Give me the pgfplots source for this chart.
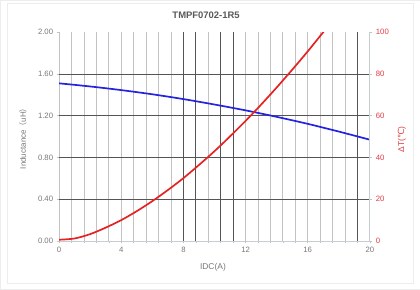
\documentclass[border=0pt]{standalone}
\usepackage{fontspec}
\setmainfont{Liberation Sans}
\newfontfamily\dejavu{DejaVu Sans}
\newfontfamily\cjk{Noto Sans CJK SC}
\usepackage{pgfplots}
\pgfplotsset{compat=1.18}
\definecolor{txtgray}{RGB}{120,120,120}
\definecolor{titlegray}{RGB}{90,90,90}
\definecolor{gridlight}{RGB}{195,195,195}
\definecolor{griddark}{RGB}{85,85,85}
\definecolor{framegray}{RGB}{200,205,210}
\definecolor{myblue}{RGB}{35,35,225}
\definecolor{myred}{RGB}{230,35,35}
\definecolor{rlab}{RGB}{225,60,70}
\begin{document}
\begin{tikzpicture}[x=1bp,y=1bp]
\path[draw=white!93!black,fill=white] (0,0) rectangle (420,289);
\path[draw=white!93!black] (7,6) rectangle (413,286);
\begin{axis}[
  at={(59bp,48bp)}, anchor=south west,
  width=311bp, height=209bp, scale only axis,
  xmin=0, xmax=20, ymin=0, ymax=2,
  axis y line*=left, axis x line*=bottom,
  xtick={0,4,...,20},
  minor xtick={0.8,1.6,2.4,3.2,4.8,5.6,6.4,7.2,8.8,9.6,10.4,11.2,12.8,13.6,14.4,15.2,16.8,17.6,18.4,19.2},
  ytick={0,0.4,0.8,1.2,1.6,2.0},
  xmajorgrids=true, xminorgrids=true, ymajorgrids=false,
  major grid style={draw=griddark, line width=0.8pt},
  minor grid style={draw=gridlight, line width=0.9pt},
  extra x ticks={0,4,12,16,20},
  extra x tick labels={},
  extra x tick style={grid=major, major grid style={draw=gridlight,line width=0.9pt}},
  extra y ticks={0.4,0.8,1.2,1.6},
  extra y tick labels={},
  extra y tick style={grid=major, major grid style={draw=griddark,line width=0.8pt}},
  axis line style={draw=framegray, line width=0.8pt},
  tick align=outside,
  major tick length=2.5bp, minor tick length=2bp,
  tick style={draw=gridlight, line width=0.6pt},
  yticklabel style={/pgf/number format/.cd, fixed, fixed zerofill, precision=2},
  ticklabel style={font=\fontsize{7.8}{8}\selectfont, text=txtgray},
  /pgf/number format/assume math mode=true,
  xlabel={IDC(A)},
  xlabel style={at={(axis description cs:0.495,-0.124)}, anchor=center, font=\fontsize{8.5}{9}\selectfont, text=txtgray},
  ylabel={Inductance{\cjk （}uH{\cjk ）}},
  ylabel style={at={(axis description cs:-0.117,0.5)}, anchor=center, font=\fontsize{8}{9}\selectfont, text=txtgray},
  title={TMPF0702-1R5},
  title style={at={(axis description cs:0.473,1.053)}, anchor=center, font=\fontsize{9.5}{10}\selectfont\bfseries, text=titlegray},
]
\addplot[draw=griddark, line width=0.8pt, ycomb, forget plot] coordinates {(8,2) (8.8,2) (10.4,2) (11.2,2) (19.2,2)};
\addplot[myblue, line width=1.7pt, smooth] coordinates {
(0,1.510) (2,1.480) (4,1.445) (6,1.405) (8,1.359) (10,1.307) (12,1.251) (14,1.189) (16,1.122) (18,1.048) (20,0.970)};
\end{axis}
\begin{axis}[
  at={(59bp,48bp)}, anchor=south west,
  width=311bp, height=209bp, scale only axis,
  xmin=0, xmax=20, ymin=0, ymax=100,
  axis y line*=right, axis x line=none,
  ytick={0,20,...,100},
  axis line style={draw=framegray, line width=0.8pt},
  tick align=outside, major tick length=2.5bp,
  tick style={draw=gridlight, line width=0.6pt},
  ticklabel style={font=\fontsize{7.8}{8}\selectfont, text=rlab},
  /pgf/number format/assume math mode=true,
  ylabel={ΔT({\dejavu ℃})},
  ylabel style={at={(axis description cs:1.103,0.486)}, anchor=center, font=\fontsize{8.5}{9}\selectfont, text=rlab},
  clip=true,
]
\addplot[myred, line width=1.7pt, smooth] coordinates {
(0,0.6) (1,1.2) (2,3.3) (3,6.4) (4,10.0) (5,14.3) (6,19.1) (7,24.4) (8,30.1) (9,36.4) (10,43.0) (11,50.1) (12,57.5) (13,65.3) (14,73.5) (15,82.0) (16,90.8) (17,100) (17.5,104.6)};
\end{axis}
\end{tikzpicture}
\end{document}
